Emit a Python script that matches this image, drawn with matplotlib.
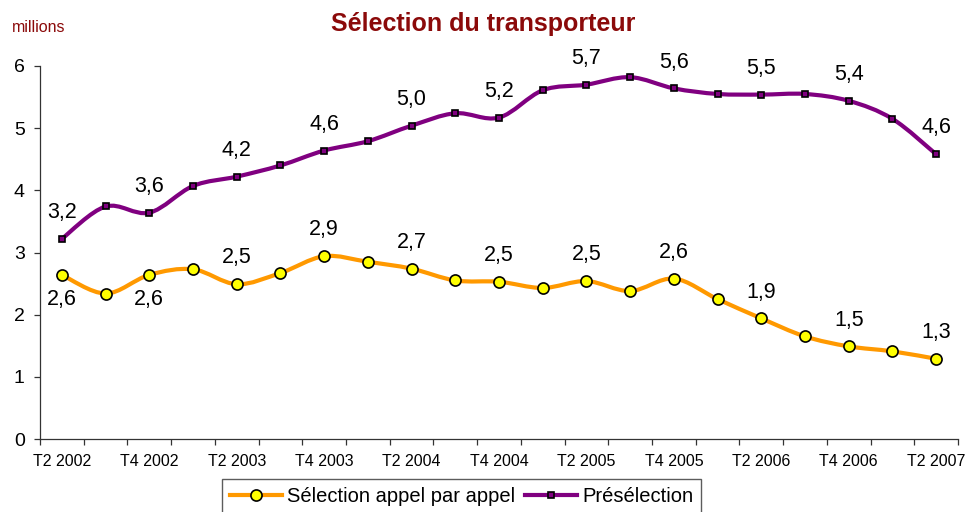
import numpy as np
import matplotlib
matplotlib.use("Agg")
import matplotlib.pyplot as plt
from matplotlib.path import Path
from matplotlib.patches import PathPatch
from matplotlib.lines import Line2D

plt.rcParams['font.family'] = ['Liberation Sans', 'DejaVu Sans']

# ---- data ----
quarters = ['T2 2002', 'T3 2002', 'T4 2002', 'T1 2003', 'T2 2003', 'T3 2003',
            'T4 2003', 'T1 2004', 'T2 2004', 'T3 2004', 'T4 2004', 'T1 2005',
            'T2 2005', 'T3 2005', 'T4 2005', 'T1 2006', 'T2 2006', 'T3 2006',
            'T4 2006', 'T1 2007', 'T2 2007']
selection_appel = [2.64, 2.34, 2.64, 2.73, 2.49, 2.67, 2.94, 2.85, 2.74, 2.55, 2.53,
                   2.43, 2.54, 2.38, 2.58, 2.25, 1.94, 1.65, 1.49, 1.41, 1.29]
preselection = [3.22, 3.74, 3.64, 4.07, 4.22, 4.40, 4.64, 4.79, 5.04, 5.24, 5.17,
                5.61, 5.70, 5.82, 5.64, 5.55, 5.54, 5.55, 5.44, 5.15, 4.58]
series_names = ['Sélection appel par appel', 'Présélection']
y_ticks = [0, 1, 2, 3, 4, 5, 6]

ORANGE = '#FF9900'
YELLOW = '#FFFF00'
PURPLE = '#800080'
DARKRED = '#8B0A0A'
AXCOL = '#333333'


def smooth_path(xs, ys):
    """Catmull-Rom style smoothed path through the data points (Excel 'smoothed line')."""
    pts = np.column_stack([xs, ys]).astype(float)
    n = len(pts)
    verts = [pts[0]]
    codes = [Path.MOVETO]
    for i in range(n - 1):
        p0 = pts[i - 1] if i > 0 else pts[i]
        p1 = pts[i]
        p2 = pts[i + 1]
        p3 = pts[i + 2] if i + 2 < n else pts[i + 1]
        c1 = p1 + (p2 - p0) / 6.0
        c2 = p2 - (p3 - p1) / 6.0
        verts += [c1, c2, p2]
        codes += [Path.CURVE4] * 3
    return Path(verts, codes)


fig = plt.figure(figsize=(9.69, 5.12), dpi=100)
ax = fig.add_axes([40 / 969, 1 - 439 / 512, (958 - 40) / 969, (439 - 66) / 512])

x = np.arange(len(quarters))

# lines
for vals, col in [(selection_appel, ORANGE), (preselection, PURPLE)]:
    patch = PathPatch(smooth_path(x, vals), fill=False, edgecolor=col, lw=3.0,
                      capstyle='round', joinstyle='round', zorder=3)
    patch.set_clip_on(False)
    ax.add_patch(patch)

ax.plot(x, selection_appel, linestyle='none', marker='o', markersize=8,
        markerfacecolor=YELLOW, markeredgecolor='black', markeredgewidth=1.2,
        zorder=4, clip_on=False)
ax.plot(x, preselection, linestyle='none', marker='s', markersize=5,
        markerfacecolor=PURPLE, markeredgecolor='black', markeredgewidth=1.2,
        zorder=4, clip_on=False)

# data labels (every other quarter)
def fmt(v):
    return f"{v:.1f}".replace('.', ',')

LBL = 15.5
for i in range(0, len(quarters), 2):
    ax.annotate(fmt(preselection[i]), (x[i], preselection[i]), xytext=(0, 15),
                textcoords='offset points', ha='center', va='baseline',
                fontsize=LBL, color='black')
    if i in (0, 2):
        ax.annotate(fmt(selection_appel[i]), (x[i], selection_appel[i]), xytext=(0, -10),
                    textcoords='offset points', ha='center', va='top',
                    fontsize=LBL, color='black')
    else:
        ax.annotate(fmt(selection_appel[i]), (x[i], selection_appel[i]), xytext=(0, 15),
                    textcoords='offset points', ha='center', va='baseline',
                    fontsize=LBL, color='black')

# axes
ax.set_xlim(-0.5, len(quarters) - 0.5)
ax.set_ylim(0, 6)
ax.set_yticks(y_ticks)
ax.set_yticklabels([str(t) for t in y_ticks], fontsize=14)
ax.set_xticks(x[::2])
ax.set_xticklabels(quarters[::2], fontsize=11.5)
ax.set_xticks(np.arange(-0.5, len(quarters), 1.0), minor=True)
ax.tick_params(axis='x', which='major', length=0, pad=10.5, colors='black')
ax.tick_params(axis='x', which='minor', length=4.5, width=0.9, color=AXCOL, direction='out')
ax.tick_params(axis='y', which='major', length=4.5, width=0.9, color=AXCOL,
               direction='out', pad=6.5, labelcolor='black')
for s in ['top', 'right']:
    ax.spines[s].set_visible(False)
for s in ['left', 'bottom']:
    ax.spines[s].set_color(AXCOL)
    ax.spines[s].set_linewidth(0.9)

# title & unit
fig.text(483 / 969, 1 - 31.5 / 512, 'Sélection du transporteur', ha='center', va='baseline',
         fontsize=18, fontweight='bold', color=DARKRED)
fig.text(12 / 969, 1 - 32 / 512, 'millions', ha='left', va='baseline',
         fontsize=11.5, color=DARKRED)

# legend
handles = [
    Line2D([], [], color=ORANGE, lw=3.0, marker='o', markersize=8,
           markerfacecolor=YELLOW, markeredgecolor='black', markeredgewidth=1.2),
    Line2D([], [], color=PURPLE, lw=3.0, marker='s', markersize=5,
           markerfacecolor=PURPLE, markeredgecolor='black', markeredgewidth=1.2),
]
leg = fig.legend(handles, series_names, loc='upper center',
                 bbox_to_anchor=(461.5 / 969, 1 - 478.7 / 512), ncol=2,
                 fontsize=14.5, frameon=True, fancybox=False, shadow=False,
                 handlelength=2.6, handletextpad=0.25, columnspacing=0.45,
                 borderpad=0.4, borderaxespad=0, numpoints=1)
leg.get_frame().set_edgecolor(AXCOL)
leg.get_frame().set_linewidth(1.0)
leg.get_frame().set_facecolor('white')

fig.savefig('out.png', dpi=100)
